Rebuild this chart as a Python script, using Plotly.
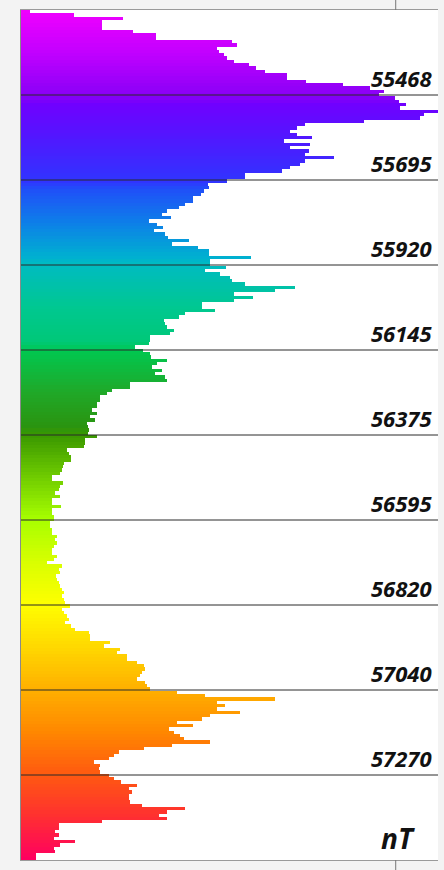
import plotly.graph_objects as go

# Histogram counts per bin (top = lowest field value, bottom = highest), 256 bins
counts = [
    9, 53, 102, 81, 81, 81, 112, 135, 135, 211,
    216, 196, 198, 203, 206, 213, 228, 235, 244, 266,
    266, 285, 322, 349, 363, 358, 374, 378, 385, 379,
    417, 403, 399, 343, 284, 276, 269, 276, 291, 263,
    289, 269, 288, 284, 313, 284, 279, 269, 261, 224,
    224, 206, 187, 188, 183, 180, 172, 172, 164, 158,
    146, 141, 150, 128, 136, 142, 133, 144, 147, 168,
    151, 177, 188, 188, 230, 189, 189, 205, 184, 199,
    209, 211, 224, 274, 254, 213, 232, 213, 181, 181,
    194, 164, 158, 143, 144, 146, 153, 149, 129, 129,
    128, 114, 122, 129, 130, 146, 136, 131, 141, 134,
    144, 146, 109, 109, 91, 86, 79, 79, 76, 76,
    71, 76, 69, 74, 66, 67, 68, 67, 76, 64,
    64, 63, 46, 48, 50, 50, 43, 42, 41, 39,
    31, 31, 42, 39, 38, 34, 39, 31, 31, 40,
    31, 31, 33, 33, 29, 29, 31, 31, 36, 34,
    36, 33, 31, 31, 36, 33, 26, 41, 38, 39,
    35, 36, 38, 39, 41, 43, 41, 43, 44, 49,
    41, 43, 46, 48, 44, 50, 54, 68, 69, 69,
    89, 83, 99, 96, 106, 106, 116, 123, 124, 121,
    119, 116, 124, 126, 129, 156, 184, 254, 196, 204,
    196, 219, 189, 181, 156, 172, 148, 153, 159, 163,
    189, 151, 123, 98, 93, 88, 73, 79, 78, 79,
    88, 93, 100, 116, 108, 111, 108, 108, 109, 121,
    164, 146, 138, 146, 81, 38, 38, 34, 38, 33,
    54, 39, 33, 34, 15, 15,
]
bins = list(range(len(counts)))

# Class break labels (nT)
break_labels = ["55468", "55695", "55920", "56145", "56375",
                "56595", "56820", "57040", "57270"]
unit_label = "nT"

rainbow = [
    [0.00, "#f000ff"], [0.05, "#c000ff"], [0.10, "#8800f6"], [0.11, "#7000ff"],
    [0.15, "#5018ff"], [0.20, "#3034ff"], [0.21, "#2050f8"], [0.25, "#0d80e8"],
    [0.29, "#00b0d0"], [0.30, "#00bcc0"], [0.35, "#00c890"], [0.39, "#00c878"],
    [0.40, "#00c850"], [0.45, "#20a828"], [0.49, "#2a9410"], [0.50, "#3a9800"],
    [0.55, "#70cc00"], [0.60, "#a8ff00"], [0.65, "#d8ff00"], [0.70, "#ffff00"],
    [0.75, "#ffd800"], [0.80, "#ffb000"], [0.85, "#ff8800"], [0.90, "#ff5a10"],
    [0.95, "#ff3030"], [1.00, "#ff0060"],
]

fig = go.Figure(go.Bar(
    x=counts, y=bins, orientation="h", width=1.0,
    marker=dict(color=bins, colorscale=rainbow, cmin=0, cmax=len(counts) - 1,
                line=dict(width=0)),
    hoverinfo="skip",
))

nb = len(counts)
step = nb / (len(break_labels) + 1)
shapes = []
annotations = []
for k, lab in enumerate(break_labels, start=1):
    yv = k * step - 0.5
    shapes.append(dict(type="line", xref="paper", x0=0, x1=1, yref="y", y0=yv, y1=yv,
                       line=dict(color="#2a2a2a", width=1), layer="above"))
    annotations.append(dict(text=lab, xref="paper", x=1, xanchor="right", xshift=-4,
                            yref="y", y=yv, yanchor="bottom", showarrow=False,
                            font=dict(family="Open Sans", size=22, color="#111",
                                      weight="bold", style="italic")))
annotations.append(dict(text=unit_label, xref="paper", x=1, xanchor="right", xshift=-21,
                        yref="paper", y=0, yanchor="bottom", yshift=1, showarrow=False,
                        font=dict(family="Open Sans", size=28, color="#111",
                                  weight="bold", style="italic")))

# background map remnant lines around the legend frame
for y0, y1 in [(1.0, 1.02), (-0.02, 0.0)]:
    shapes.append(dict(type="line", xref="paper", x0=0.8986, x1=0.8986, yref="paper",
                       y0=y0, y1=y1, line=dict(color="#777", width=1)))

fig.update_layout(
    width=444, height=870,
    margin=dict(l=21, r=6, t=10, b=10),
    paper_bgcolor="#f3f3f3", plot_bgcolor="white",
    bargap=0, showlegend=False,
    shapes=shapes, annotations=annotations,
    xaxis=dict(range=[0, 417], showticklabels=False, showgrid=False, zeroline=False,
               showline=True, linecolor="#9a9a9a", linewidth=1, mirror=True, ticks=""),
    yaxis=dict(range=[nb - 0.5, -0.5], showticklabels=False, showgrid=False, zeroline=False,
               showline=True, linecolor="#8a8a8a", linewidth=1, ticks=""),
)

fig.write_html(
    "out.html",
    config={"displayModeBar": False},
    post_script="document.body.style.margin='0';document.body.style.background='#f3f3f3';",
)
